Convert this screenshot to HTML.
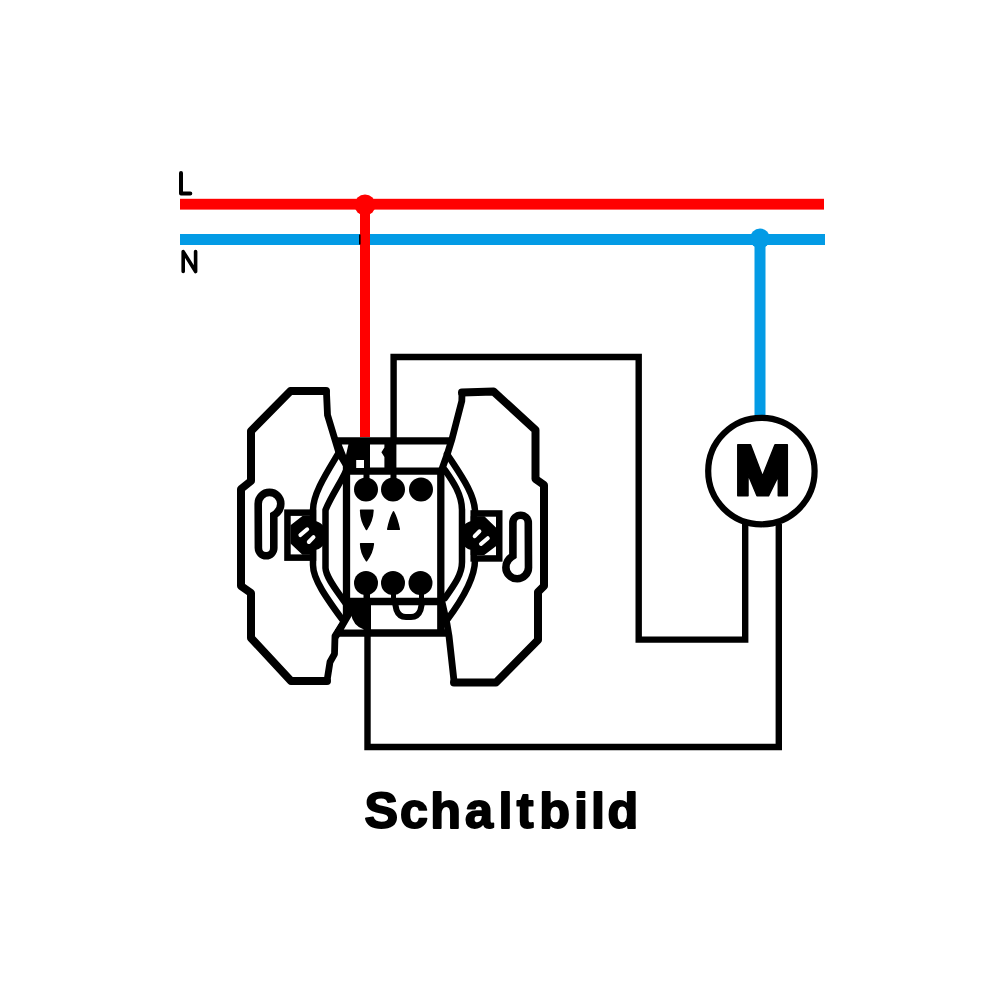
<!DOCTYPE html>
<html><head><meta charset="utf-8"><style>
html,body{margin:0;padding:0;background:#fff;width:1000px;height:1000px;overflow:hidden}
svg{display:block}
</style></head><body>
<svg width="1000" height="1000" viewBox="0 0 1000 1000">
<rect width="1000" height="1000" fill="#fff"/>
<!-- labels -->
<g fill="none" stroke="#000" stroke-linecap="round" stroke-linejoin="round">
<path d="M181 173 V193.6 H190.3" stroke-width="4"/>
<path d="M183.2 271.5 V251.6 L195.6 271.5 V251.6" stroke-width="3.6"/>
</g>
<!-- buses -->
<rect x="180" y="198.8" width="644" height="10.8" fill="#f00"/>
<rect x="180" y="234" width="645" height="11" fill="#039be5"/>
<!-- red drop -->
<rect x="360" y="204" width="10" height="233" fill="#f00"/>
<circle cx="365" cy="205" r="10.5" fill="#f00"/>
<rect x="359" y="234.5" width="1.6" height="10" fill="#000"/>
<!-- blue drop -->
<rect x="754.5" y="238" width="11" height="178" fill="#039be5"/>
<circle cx="760" cy="238.5" r="10" fill="#039be5"/>
<!-- black wires -->
<g fill="none" stroke="#000" stroke-width="6.4" stroke-linejoin="miter" stroke-linecap="butt">
<path d="M393.6 441 V357 H638.7 V639.6 H745.2 V524"/>
<path d="M778.8 524 V747 H367.5 V620"/>
</g>
<!-- motor -->
<circle cx="761.4" cy="471.1" r="53.2" fill="#fff" stroke="#000" stroke-width="6.2"/>
<path d="M737.8 444.8 H750.5 L762.5 476.2 L775 444.8 H787.3 V495.8 H778.3 V476 L768.5 495.8 H757 L748 474.3 V495.8 H737.8 Z" fill="#000" stroke="#000" stroke-width="1.5" stroke-linejoin="round"/>

<!-- switch: plates -->
<g fill="none" stroke="#000" stroke-width="8" stroke-linejoin="round" stroke-linecap="round">
<path d="M326 391 L290.5 391 L251 431 L251 481 L241 489 L241 586 L251 593 L251 638 L291 681 L327 681"/>
<path d="M462 392.5 L493.5 391.5 L535.5 430 L535.5 479 L544 485 L544 586 L538 592 L538 640 L496 682.5 L454 682.5"/>
</g>
<g fill="none" stroke="#000" stroke-width="6.8" stroke-linejoin="round" stroke-linecap="round">
<path d="M348 468 L339 453 L327.5 415 L326.5 393"/>
<path d="M327.3 679 L330 662 L334.5 654 L335 636 L345 620 L350 612"/>
<path d="M442 469 L447 455 L452 439 L461.8 401 L462 394"/>
<path d="M454 681 L449 636 L447 624 L442 602"/>
</g>
<!-- arcs -->
<g fill="none" stroke="#000" stroke-width="6.5" stroke-linejoin="round" stroke-linecap="round">
<path d="M338 454 C326 474 313 494 313 510 L313 565 C313 580 328 600 344 622"/>
<path d="M348 466 C344 478 332 494 325.5 510 L325.5 568 C326 578 338 592 346 604"/>
<path d="M447 454 C460 474 475 494 475 512 L475 560 C475 578 462 600 447 620"/>
<path d="M445 470 C452 480 462 494 462 510 L462 562 C462 574 455 584 445 598"/>
</g>
<!-- body lines -->
<g stroke="#000" stroke-width="7.3" fill="none">
<path d="M334 440.8 H453"/>
<path d="M343 471.2 H445"/>
<path d="M346.5 441 V633"/>
<path d="M440.8 471 V633"/>
<path d="M343 601.5 H445"/>
<path d="M335 633 H449"/>
</g>
<!-- top blocks -->
<path d="M336 443 H370 V468 H348 Z" fill="#000"/><rect x="363.5" y="473" width="6" height="7" fill="#000"/><rect x="390.5" y="473" width="6" height="7" fill="#000"/><rect x="363.5" y="590" width="6.5" height="10" fill="#000"/><rect x="391" y="590" width="5" height="10" fill="#000"/><rect x="419" y="590" width="5" height="10" fill="#000"/>
<path d="M341.8 444.4 H348.4 L346 455 Z" fill="#fff"/>
<rect x="356.2" y="460" width="7.8" height="8" fill="#fff"/>
<path d="M384.4 444 H396.4 V468 H384.4 V457 L381.4 452.2 L384.4 447.4 Z" fill="#000"/>
<!-- bottom block -->
<path d="M350 600 H371 V630 H350 Z" fill="#000"/>
<path d="M343.5 629.5 L351 614 Q353 626 364 629.5 Z" fill="#fff"/>
<path d="M350 612 L336 636" stroke="#000" stroke-width="7" stroke-linecap="round"/>
<!-- contacts -->
<g fill="#000">
<circle cx="366" cy="489.5" r="12"/>
<circle cx="393" cy="489.5" r="12"/>
<circle cx="421" cy="489.5" r="12"/>
<circle cx="366" cy="583" r="12"/>
<circle cx="393" cy="583" r="12"/>
<circle cx="420.5" cy="583" r="12"/>
</g>
<g fill="#000" stroke="#000" stroke-width="1.5" stroke-linejoin="round">
<path d="M360.6 510.3 L373 510.3 Q372.5 521 366.5 529.5 Q360.8 521 360.6 510.3 Z"/>
<path d="M393.5 511.8 Q397 518 399.3 529.3 L387.7 529.3 Q390 518 393.5 511.8 Z"/>
<path d="M360.6 543.8 L373.4 543.8 Q372.5 553 366.5 560.8 Q360.8 553 360.6 543.8 Z"/>
</g>
<!-- U -->
<path d="M395 603 L396.5 610 Q399 617 406 617 H411 Q418 617 420.5 610 L422 603" fill="none" stroke="#000" stroke-width="6"/>

<!-- screws + keyholes (left; right is 180deg rotation) -->
<g id="sk">
<rect x="287.45" y="512.65" width="25.55" height="45" fill="#fff" stroke="#000" stroke-width="6.5"/>
<path d="M302.4 516 H316 V554.8 H302.4 L290.5 543.4 V525.2 Z M314 521 Q319 521 323 525.5 V545.5 Q319 550 314 550 Z" fill="#000"/>
<path d="M300.4 535.1 L307.2 529.3 M308.8 542 L313.5 537.1" stroke="#fff" stroke-width="4" stroke-linecap="round"/>
<path d="M262 503.7 A7.5 7.5 0 0 1 277 503.7 Q277 509.5 270 513 L270 548.1 A3.9 3.9 0 0 1 262.2 548.1 Z" fill="#000" stroke="#000" stroke-width="15.2" stroke-linejoin="round"/><path d="M262 503.7 A7.5 7.5 0 0 1 277 503.7 Q277 509.5 270 513 L270 548.1 A3.9 3.9 0 0 1 262.2 548.1 Z" fill="#fff"/>
</g>
<g transform="translate(-1 0) rotate(180 393.85 535.55)">
<rect x="287.45" y="512.65" width="25.55" height="45" fill="#fff" stroke="#000" stroke-width="6.5"/>
<path d="M302.4 516 H316 V554.8 H302.4 L290.5 543.4 V525.2 Z M314 521 Q319 521 323 525.5 V545.5 Q319 550 314 550 Z" fill="#000"/>
<path d="M300.4 535.1 L307.2 529.3 M308.8 542 L313.5 537.1" stroke="#fff" stroke-width="4" stroke-linecap="round" transform="translate(-1.5 -2.2)"/>
<path d="M262 503.7 A7.5 7.5 0 0 1 277 503.7 Q277 509.5 270 513 L270 548.1 A3.9 3.9 0 0 1 262.2 548.1 Z" fill="#000" stroke="#000" stroke-width="15.2" stroke-linejoin="round"/><path d="M262 503.7 A7.5 7.5 0 0 1 277 503.7 Q277 509.5 270 513 L270 548.1 A3.9 3.9 0 0 1 262.2 548.1 Z" fill="#fff"/>
</g>

<!-- title -->
<text x="364.5 400.0 430.2 464.9 498.4 516.8 539.2 574.1 590.9 607.6" y="827.7" font-family="'Liberation Sans', sans-serif" font-weight="bold" font-size="50.3" fill="#000" stroke="#000" stroke-width="1.9" stroke-linejoin="round">Schaltbild</text>
</svg>
</body></html>
